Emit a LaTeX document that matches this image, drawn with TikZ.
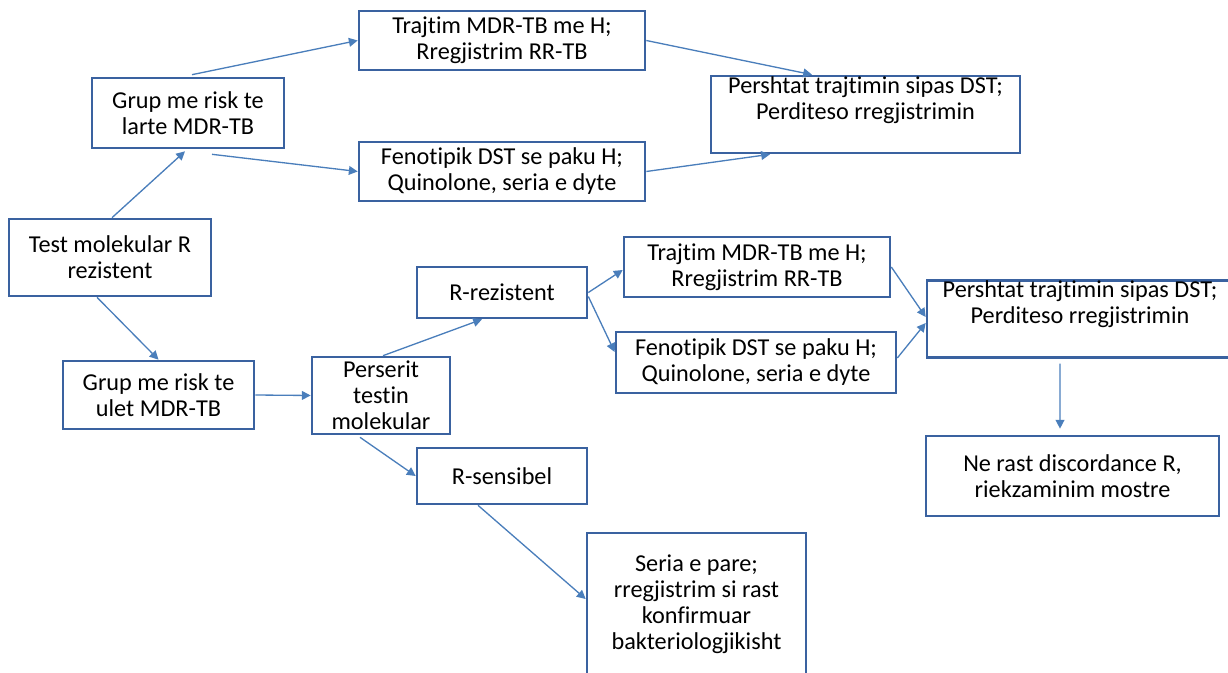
\documentclass[tikz,border=0pt]{standalone}
\usepackage{fontspec}
\setmainfont{Carlito}[Ligatures={NoCommon}]
\usetikzlibrary{arrows.meta}

\definecolor{boxblue}{HTML}{3A62A0}
\definecolor{linkblue}{HTML}{4A7EBB}

\tikzset{
  box/.style={draw=boxblue, line width=1.5pt, fill=white, align=center, inner sep=0pt},
  link/.style={draw=linkblue, line width=0.75pt, -{Triangle[length=5pt,width=5pt]}}
}

\begin{document}
\begin{tikzpicture}[every node/.style={font=\fontsize{13.8}{14.8}\selectfont}]
    \useasboundingbox (0,0) rectangle (24.56,-13.46);
    \clip (0,0) rectangle (24.56,-13.46);

    % boxes
    \node[box, minimum width=4.04cm, minimum height=1.54cm] (test) at (2.2,-5.15) {Test molekular R\\rezistent};
    \node[box, minimum width=3.84cm, minimum height=1.4cm] (hi) at (3.76,-2.26) {Grup me risk te\\larte MDR-TB};
    \node[box, minimum width=3.82cm, minimum height=1.36cm] (lo) at (3.17,-7.9) {Grup me risk te\\ulet MDR-TB};
    \node[box, minimum width=5.72cm, minimum height=1.18cm] (treatA) at (10.04,-0.81) {Trajtim MDR-TB me H;\\Rregjistrim RR-TB};
    \node[box, minimum width=5.72cm, minimum height=1.18cm] (fenoA) at (10.04,-3.43) {Fenotipik DST se paku H;\\Quinolone, seria e dyte};
    \node[box, minimum width=6.18cm, minimum height=1.54cm] (adaptA) at (17.31,-2.29) {Pershtat trajtimin sipas DST;\\Perditeso rregjistrimin\\\strut};
    \node[box, minimum width=2.76cm, minimum height=1.54cm] (rep) at (7.62,-7.91) {Perserit\\testin\\molekular};
    \node[box, minimum width=3.4cm, minimum height=1.02cm] (rres) at (10.04,-5.85) {R-rezistent};
    \node[box, minimum width=3.4cm, minimum height=1.12cm] (rsens) at (10.04,-9.52) {R-sensibel};
    \node[box, minimum width=5.32cm, minimum height=1.2cm] (treatB) at (15.14,-5.34) {Trajtim MDR-TB me H;\\Rregjistrim RR-TB};
    \node[box, minimum width=5.6cm, minimum height=1.22cm] (fenoB) at (15.12,-7.25) {Fenotipik DST se paku H;\\Quinolone, seria e dyte};
    \node[box, minimum width=6.12cm, minimum height=1.52cm] (adaptB) at (21.6,-6.38) {Pershtat trajtimin sipas DST;\\Perditeso rregjistrimin\\\strut};
    \node[box, minimum width=5.86cm, minimum height=1.6cm] (ne) at (21.45,-9.52) {Ne rast discordance R,\\riekzaminim mostre};
    \node[box, minimum width=4.38cm, minimum height=2.84cm] (seria) at (13.93,-12.08) {Seria e pare;\\rregjistrim si rast\\konfirmuar\\bakteriologjikisht};

    % arrows
    \draw[link] ([xshift=0.04cm]test.north) -- ([xshift=-0.06cm,yshift=-0.04cm]hi.south);
    \draw[link] ([xshift=-0.26cm]test.south) -- (lo.north);
    \draw[link] ([xshift=0.08cm,yshift=0.04cm]hi.north) -- (treatA.west);
    \draw[link] ([xshift=0.48cm,yshift=-0.1cm]hi.south) -- (fenoA.west);
    \draw[link] (treatA.east) -- ([xshift=-1.07cm]adaptA.north);
    \draw[link] (fenoA.east) -- ([xshift=-1.91cm]adaptA.south);
    \draw[link] (lo.east) -- (rep.west);
    \draw[link] ([xshift=0.04cm]rep.north) -- ([xshift=-0.4cm]rres.south);
    \draw[link] ([xshift=-0.42cm,yshift=-0.04cm]rep.south) -- (rsens.west);
    \draw[link] ([xshift=-0.48cm]rsens.south) -- ([yshift=0.1cm]seria.west);
    \draw[link] (rres.east) -- ([yshift=-0.06cm]treatB.west);
    \draw[link] ([yshift=-0.08cm]rres.east) -- ([yshift=0.21cm]fenoB.west);
    \draw[link] (treatB.east) -- ([yshift=0.04cm]adaptB.west);
    \draw[link] ([yshift=0.09cm]fenoB.east) -- ([yshift=-0.08cm]adaptB.west);
    \draw[link] ([xshift=-0.4cm,yshift=-0.1cm]adaptB.south) -- ([xshift=-0.25cm,yshift=0.12cm]ne.north);
\end{tikzpicture}
\end{document}
